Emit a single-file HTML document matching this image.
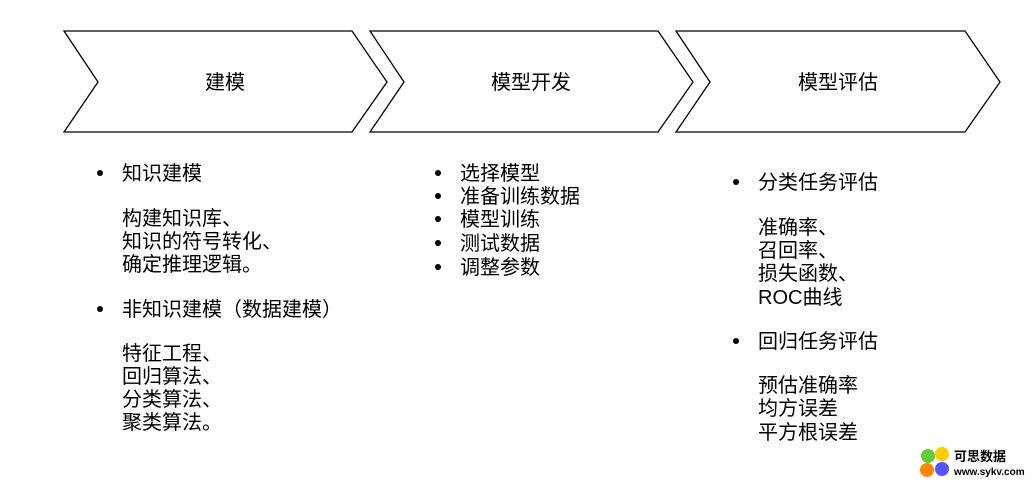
<!DOCTYPE html>
<html><head><meta charset="utf-8"><style>
body{margin:0;width:1032px;height:484px;background:#fff;position:relative;overflow:hidden;font-family:"Liberation Sans","Noto Sans CJK SC",sans-serif;color:#000}
.t{position:absolute;font-size:20px;line-height:24px;white-space:nowrap}
.b{position:absolute;width:6px;height:6px;border-radius:50%;background:#000}
</style></head><body>
<svg width="1032" height="484" style="position:absolute;left:0;top:0">
<g fill="#fff" stroke="#000" stroke-width="1.3">
<polygon points="64,31 352,31 387,82 352,132 64,132 98,82"/>
<polygon points="370,31 658,31 693,82 658,132 370,132 404,82"/>
<polygon points="676,31 965,31 1000,82 965,132 676,132 710,82"/>
</g>
<g font-size="20" text-anchor="middle" font-family="Liberation Sans, Noto Sans CJK SC, sans-serif">
<text x="225" y="89">建模</text>
<text x="531" y="89">模型开发</text>
<text x="838" y="89">模型评估</text>
</g>
<circle cx="928" cy="456" r="7" fill="#6c3"/>
<circle cx="942" cy="454" r="7" fill="#fc0"/>
<circle cx="927" cy="470" r="7" fill="#f80"/>
<circle cx="942" cy="469" r="7" fill="#55f"/>
<text x="954" y="461" font-size="13" font-weight="bold" font-family="Noto Sans CJK SC, sans-serif">可思数据</text>
<text x="954" y="475" font-size="10" font-weight="bold" font-family="Liberation Sans, sans-serif">www.sykv.com</text>
</svg>
<div class="b" style="left:97px;top:170px"></div>
<div class="t" style="left:122px;top:162px">知识建模</div>
<div class="t" style="left:122px;top:207px">构建知识库、</div>
<div class="t" style="left:122px;top:230px">知识的符号转化、</div>
<div class="t" style="left:122px;top:253px">确定推理逻辑。</div>
<div class="b" style="left:97px;top:306px"></div>
<div class="t" style="left:122px;top:298px">非知识建模（数据建模）</div>
<div class="t" style="left:122px;top:342px">特征工程、</div>
<div class="t" style="left:122px;top:365px">回归算法、</div>
<div class="t" style="left:122px;top:388px">分类算法、</div>
<div class="t" style="left:122px;top:411px">聚类算法。</div>

<div class="b" style="left:435px;top:170px"></div><div class="t" style="left:460px;top:162px">选择模型</div>
<div class="b" style="left:435px;top:193px"></div><div class="t" style="left:460px;top:185px">准备训练数据</div>
<div class="b" style="left:435px;top:216px"></div><div class="t" style="left:460px;top:208px">模型训练</div>
<div class="b" style="left:435px;top:240px"></div><div class="t" style="left:460px;top:232px">测试数据</div>
<div class="b" style="left:435px;top:264px"></div><div class="t" style="left:460px;top:256px">调整参数</div>

<div class="b" style="left:733px;top:179px"></div>
<div class="t" style="left:758px;top:171px">分类任务评估</div>
<div class="t" style="left:758px;top:216px">准确率、</div>
<div class="t" style="left:758px;top:239px">召回率、</div>
<div class="t" style="left:758px;top:262px">损失函数、</div>
<div class="t" style="left:758px;top:286px">ROC曲线</div>
<div class="b" style="left:733px;top:338px"></div>
<div class="t" style="left:758px;top:330px">回归任务评估</div>
<div class="t" style="left:758px;top:374px">预估准确率</div>
<div class="t" style="left:758px;top:397px">均方误差</div>
<div class="t" style="left:758px;top:421px">平方根误差</div>
</body></html>
